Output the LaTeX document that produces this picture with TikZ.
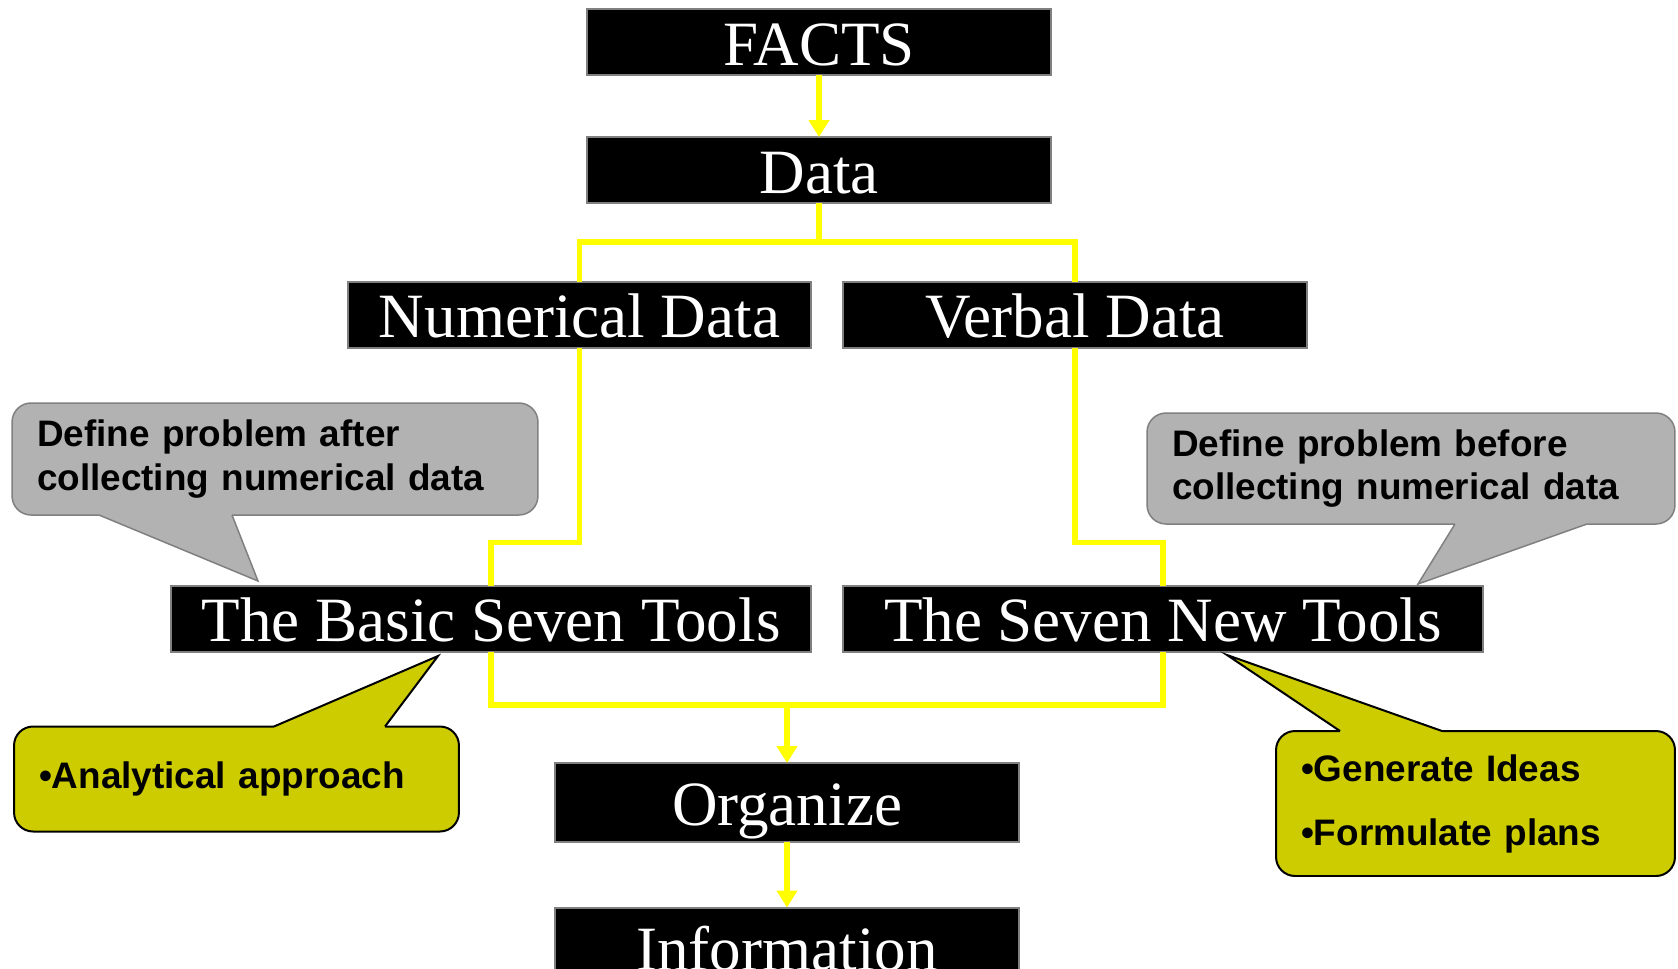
\documentclass[tikz,border=0pt]{standalone}
\usepackage{fontspec}
\setmainfont{Liberation Serif}
\newfontfamily\notefont{Liberation Sans}
\usetikzlibrary{arrows.meta,positioning}
\definecolor{linkyellow}{RGB}{255,255,0}
\definecolor{notegray}{RGB}{178,178,178}
\definecolor{noteolive}{RGB}{204,204,0}
\definecolor{boxedge}{RGB}{128,128,128}
\begin{document}
\begin{tikzpicture}[x=0.02cm,y=-0.02cm,
      every node/.style={inner sep=0pt,outer sep=0pt},
      blackbox/.style={fill=black,draw=boxedge,line width=0.04cm,text=white,
        font=\fontsize{35.9pt}{43pt}\selectfont,minimum height=1.26cm,
        text height=1.12cm,text depth=0.2cm},
      link/.style={draw=linkyellow,line width=0.11cm},
      linkarrow/.style={link,-{Triangle[width=0.4cm,length=0.34cm]}},
      note/.style={rounded corners=0.38cm,align=left,inner xsep=0.5cm,
        font=\notefont\bfseries\fontsize{21pt}{25pt}\selectfont},
      graynote/.style={note,fill=notegray,draw=boxedge,line width=0.03cm},
      olivenote/.style={note,fill=noteolive,draw=black,line width=0.04cm}]
      \useasboundingbox (0,0) rectangle (1678,968);
      % main chain
      \node[blackbox,minimum width=9.28cm] at(819,42)(facts){FACTS};
      \node[blackbox,minimum width=9.28cm] at(819,170)(data){Data};
      \node[blackbox,minimum width=9.26cm] at(579.5,314.5)(numdata){Numerical Data};
      \node[blackbox,minimum width=9.28cm] at(1075,314.5)(verbdata){Verbal Data};
      \node[blackbox,minimum width=12.8cm] at(491,618.5)(basic){The Basic Seven Tools};
      \node[blackbox,minimum width=12.8cm] at(1163,618.5)(newtools){The Seven New Tools};
      \node[blackbox,minimum width=9.28cm,minimum height=1.58cm]
      at(787,802.5)(organize){Organize};
      \node[blackbox,minimum width=9.28cm,minimum height=1.58cm]
      at(787,947)(info){Information};
      \coordinate (split) at (819,242);
      \coordinate (merge) at (787,705);
      \draw[linkarrow](facts)--(data);
      \draw[link](data.south)--(split);
      \draw[link](split)-|(numdata.north);
      \draw[link](split)-|(verbdata.north);
      \draw[link](numdata.south)--++(0,195)-|(basic.north);
      \draw[link](verbdata.south)--++(0,195)-|(newtools.north);
      \draw[link](basic.south)|-(merge)-|(newtools.south);
      \draw[linkarrow](merge)--(organize);
      \draw[linkarrow](organize)--(info);
      % callouts
      \node[graynote,text width=9.52cm,minimum height=2.24cm] at(275,459)(afternote)
      {Define problem after\\collecting numerical data};
      \fill[notegray](99,508)--(99,515)--(258,581)--(232,515)--(232,508)--cycle;
      \draw[boxedge,line width=0.03cm](99,515)--(258,581)--(232,515);
      \node[graynote,text width=9.56cm,minimum height=2.22cm] at(1411,468.5)(beforenote)
      {Define problem before\\collecting numerical data};
      \fill[notegray](1455,517)--(1455,524)--(1418,584)--(1587,524)--(1587,517)--cycle;
      \draw[boxedge,line width=0.03cm](1455,524)--(1418,584)--(1587,524);
      \node[olivenote,text width=7.9cm,minimum height=2.1cm] at(236.5,779)(basicnote)
      {•Analytical approach};
      \fill[noteolive](274,733.5)--(274,726.5)--(438,656)--(385,726.5)--(385,733.5)--cycle;
      \draw[line width=0.04cm](274,726.5)--(438,656)--(385,726.5);
      \node[olivenote,text width=6.98cm,minimum height=2.9cm] at(1475.5,803.5)(newnote)
      {•Generate Ideas\\[0.4cm]•Formulate plans};
      \fill[noteolive](1340,738)--(1340,731)--(1227,655)--(1442,731)--(1442,738)--cycle;
      \draw[line width=0.04cm](1340,731)--(1227,655)--(1442,731);
\end{tikzpicture}
\end{document}
